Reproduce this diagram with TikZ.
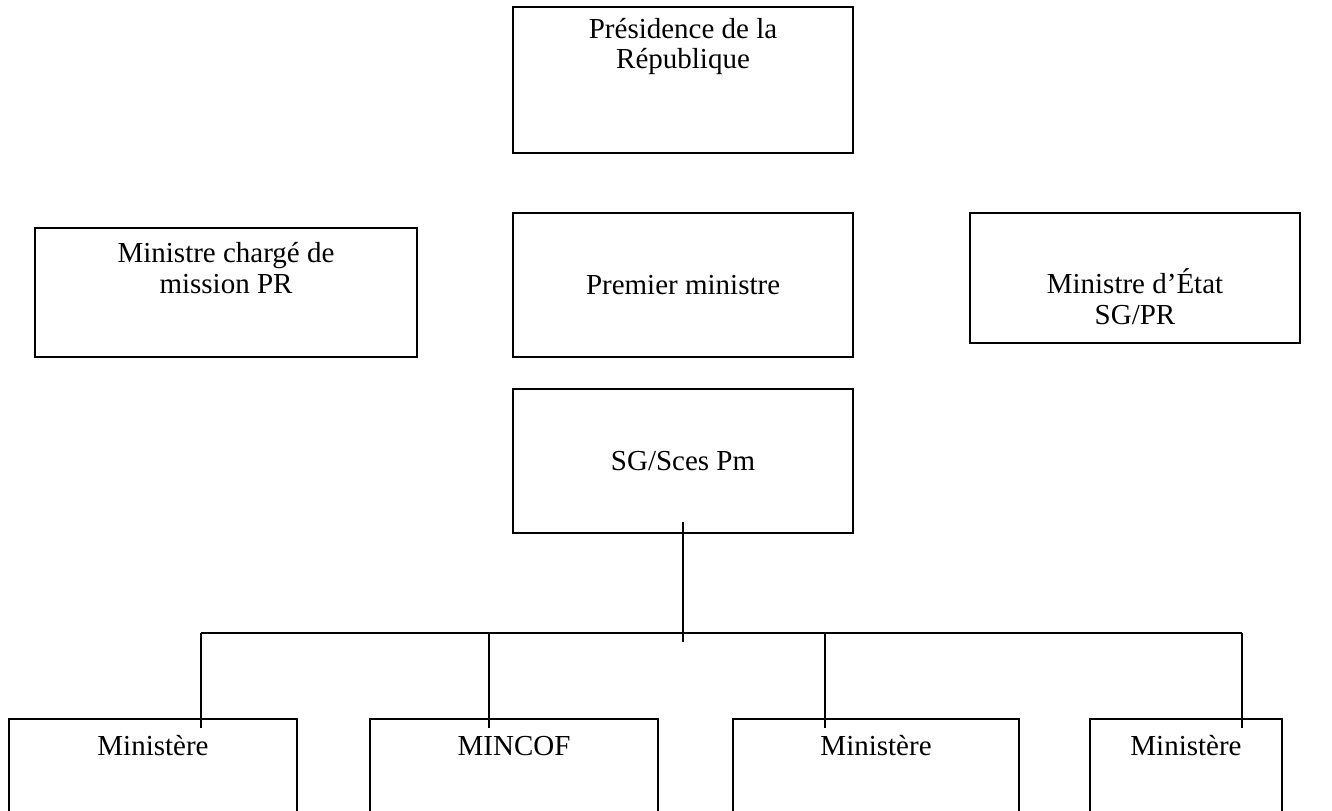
\documentclass[tikz,border=0pt]{standalone}
\usepackage{fontspec}
\setmainfont{Liberation Serif}
\usetikzlibrary{positioning}
\tikzstyle{boite}=[rectangle,draw=black,line width=0.8pt,inner sep=0pt]
\tikzstyle{texte}=[align=center,inner sep=0pt,font=\fontsize{12}{12.6}\selectfont]
\tikzstyle{titre}=[texte,text height=0.8em,text depth=0.2em]
\tikzstyle{lien}=[line width=0.8pt]

\begin{document}
\begin{tikzpicture}
    \useasboundingbox (0,0) rectangle (19.372,-11.781);

    % Boites
    \node[boite, minimum width=4.945cm, minimum height=2.123cm] (pres) at (9.934,-1.164) {};
    \node[texte, below=0.17cm of pres.north] (presT) {Présidence de la\\République};
    \node[boite, minimum width=5.556cm, minimum height=1.876cm] (charge) at (3.287,-4.254) {};
    \node[texte, below=0.22cm of charge.north] (chargeT) {Ministre chargé de\\mission PR};
    \node[boite, texte, minimum width=4.945cm, minimum height=2.094cm] (pm) at (9.934,-4.145) {Premier ministre};
    \node[boite, minimum width=4.800cm, minimum height=1.891cm] (etat) at (16.507,-4.043) {};
    \node[texte, below=0.82cm of etat.north] (etatT) {Ministre d’État\\SG/PR};
    \node[boite, texte, minimum width=4.945cm, minimum height=2.094cm] (sg) at (9.934,-6.705) {SG/Sces Pm};

    % Ministeres
    \node[boite, minimum width=4.189cm, minimum height=2cm] (min1) at (2.225,-11.457) {};
    \node[titre, below=0.25cm of min1.north] (min1T) {Ministère};
    \node[boite, minimum width=4.189cm, minimum height=2cm] (mincof) at (7.476,-11.457) {};
    \node[titre, below=0.25cm of mincof.north] (mincofT) {MINCOF};
    \node[boite, minimum width=4.160cm, minimum height=2cm] (min3) at (12.741,-11.457) {};
    \node[titre, below=0.25cm of min3.north] (min3T) {Ministère};
    \node[boite, minimum width=2.792cm, minimum height=2cm] (min4) at (17.249,-11.457) {};
    \node[titre, below=0.25cm of min4.north] (min4T) {Ministère};

    % Liaisons
    \coordinate (d1) at (2.923,-9.206);
    \coordinate (d2) at (7.112,-9.206);
    \coordinate (d3) at (11.999,-9.206);
    \coordinate (d4) at (18.064,-9.206);
    \draw[lien] ([yshift=0.175cm]sg.south) -- ([yshift=-0.13cm]sg.south |- d1);
    \draw[lien] (d1) -- (d4);
    \draw[lien] (d1) -- ([yshift=-0.14cm]d1 |- min1.north);
    \draw[lien] (d2) -- ([yshift=-0.14cm]d2 |- mincof.north);
    \draw[lien] (d3) -- ([yshift=-0.14cm]d3 |- min3.north);
    \draw[lien] (d4) -- ([yshift=-0.14cm]d4 |- min4.north);

\end{tikzpicture}
\end{document}
